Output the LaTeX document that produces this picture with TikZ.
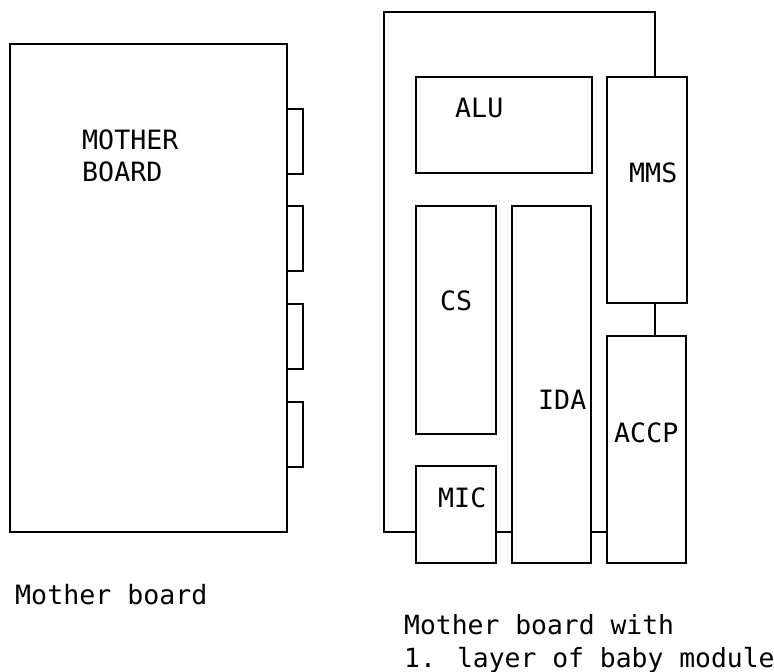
\documentclass[tikz,border=0pt]{standalone}
\usepackage{fontspec}
\setmainfont{DejaVu Sans Mono}
\usetikzlibrary{positioning}

\begin{document}
\begin{tikzpicture}[
  x=0.03cm, y=-0.03cm,
  board/.style={draw, line width=1.3pt, inner sep=0pt, outer sep=0pt, anchor=north west},
  tab/.style={board, minimum width=0.48cm, minimum height=1.95cm},
  lbl/.style={font=\fontsize{22.7}{27.3}\selectfont, inner sep=0pt, anchor=base west},
  capt/.style={font=\fontsize{22.5}{28.2}\selectfont, inner sep=0pt, anchor=north west, align=left}
]
  \useasboundingbox (0,0) rectangle (774,672);

  \node[board, minimum width=8.31cm, minimum height=14.64cm] (mb) at (10,44) {};
  \node[tab] (t1) at (287,109) {};
  \node[tab] (t2) at (287,206) {};
  \node[tab] (t3) at (287,304) {};
  \node[tab] (t4) at (287,402) {};
  \node[capt, font=\fontsize{22.7}{27.3}\selectfont] (mbtxt) at (82,130) {MOTHER\\BOARD};
  \node[lbl] (cap1) at (15,604) {Mother board};

  \node[board, minimum width=5.28cm, minimum height=2.88cm] (alu) at (416,77) {};
  \node[board, minimum width=2.4cm, minimum height=6.78cm] (mms) at (607,77) {};
  \node[board, minimum width=2.4cm, minimum height=6.84cm] (cs) at (416,206) {};
  \node[board, minimum width=2.37cm, minimum height=10.71cm] (ida) at (512,206) {};
  \node[board, minimum width=2.37cm, minimum height=6.81cm] (accp) at (607,336) {};
  \node[board, minimum width=2.4cm, minimum height=2.91cm] (mic) at (416,466) {};

  \node[lbl] (alutxt) at (455,117) {ALU};
  \node[lbl] (mmstxt) at (629,182) {MMS};
  \node[lbl] (cstxt) at (440,310) {CS};
  \node[lbl] (idatxt) at (538,409) {IDA};
  \node[lbl] (accptxt) at (614,442) {ACCP};
  \node[lbl] (mictxt) at (438,507) {MIC};

  \coordinate (ftl) at (384,12);
  \coordinate (ftr) at (655,12);
  \coordinate (fbl) at (384,532);
  \draw[line width=1.3pt] (mms.north -| ftr) -- (ftr) -- (ftl) -- (fbl) -- (fbl -| mic.west);
  \draw[line width=1.3pt] (mic.east |- fbl) -- (ida.west |- fbl);
  \draw[line width=1.3pt] (ida.east |- fbl) -- (accp.west |- fbl);
  \draw[line width=1.3pt] (mms.south -| ftr) -- (accp.north -| ftr);

  \node[capt] (cap2) at (404,614) {Mother board with\\1. layer of baby module};
\end{tikzpicture}
\end{document}
